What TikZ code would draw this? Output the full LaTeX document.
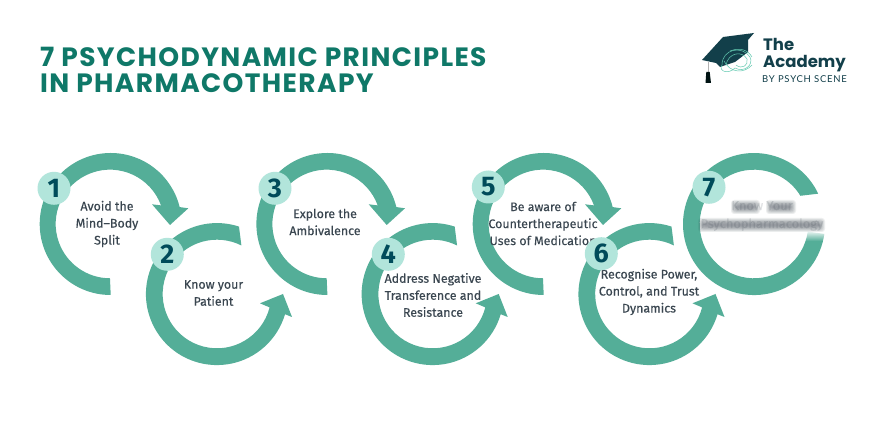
\documentclass[tikz,border=0pt]{standalone}
\usepackage{fontspec}
\setmainfont{Fira Sans}
\newfontfamily\bodym[FakeBold=0.5]{Fira Sans}
\newfontfamily\bodyr[FakeBold=0.15]{Fira Sans}
\newfontfamily\blurf[FakeBold=1.5]{Fira Sans}
\newfontfamily\digitf{Fira Sans}
\newfontfamily\titlef[LetterSpace=5.2]{Poppins}
\newfontfamily\logof{Poppins}
\newfontfamily\logos[LetterSpace=8]{Lato}
\usetikzlibrary{fadings,calc}
\definecolor{ringc}{HTML}{54AE98}
\definecolor{badgec}{HTML}{B2E5DB}
\definecolor{digitc}{HTML}{004B5A}
\definecolor{textc}{HTML}{3A4650}
\definecolor{titlec}{HTML}{0F7868}
\definecolor{logoc}{HTML}{123F4A}
\definecolor{brainc}{HTML}{62C9B0}
\tikzset{
  x=1pt,y=1pt,
  badge/.style={circle,fill=badgec,minimum size=33pt,inner sep=0pt,text=digitc,font=\digitf\fontsize{27}{27}\selectfont\bfseries},
  label/.style={align=center,text=textc,inner sep=0pt,font=\bodym\fontsize{12.4}{17}\selectfont},
  labellight/.style={align=center,text=textc,inner sep=0pt,font=\bodyr\fontsize{12.4}{17}\selectfont},
  ttl/.style={anchor=base west,inner sep=0pt,text=titlec,font=\titlef\bfseries\fontsize{26.5}{27}\selectfont},
  blurtxt/.style={align=center,text=textc,text opacity=0.12,inner sep=0pt,font=\blurf\fontsize{12.8}{18}\selectfont},
  brain/.style={draw=brainc,line width=0.5pt}
}
% top ring: flat end at the bottom, head to the lower right
\newcommand{\topring}[2]{%
  \fill[ringc] (#1+0.7,#2-71) arc[start angle=270,end angle=13.8,radius=71]
    -- (#1+78.3,#2+15.7) -- (#1+60,#2-1) -- (#1+42,#2+19.7)
    -- ++(9,-1.1) arc[start angle=20,end angle=270,radius=54.3] -- cycle;}
% bottom ring: slanted end at the top, head to the upper right
\newcommand{\lowring}[2]{%
  \fill[ringc] (#1+22,#2+67.4) arc[start angle=71.9,end angle=343.5,radius=71]
    -- (#1+75,#2-23) -- (#1+66,#2) -- (#1+43,#2-9.3)
    -- (#1+52.6,#2-13.4) arc[start angle=345.7,end angle=63.3,radius=54.3] -- cycle;}
% soft grey bar: left, right, centre height
\newcommand{\softbar}[3]{%
  \foreach \g in {0,1,...,7}{
    \fill[textc,opacity=0.085,rounded corners=3pt]
      (#1+\g*0.8-2,#3-7+\g*0.8) rectangle (#2-\g*0.8+2,#3+7-\g*0.8);
  }}
\begin{document}
\begin{tikzpicture}
\useasboundingbox (0,0) rectangle (878,433);
\fill[white] (0,0) rectangle (878,433);
% title
\node[ttl] (t1) at (40,366) {7 PSYCHODYNAMIC PRINCIPLES};
\node[ttl] (t2) at (40,340) {IN PHARMACOTHERAPY};
% logo
\fill[logoc] (702,373) -- (723,396) -- (754,400) -- (748,393) -- (748,381) -- (735,371) -- (720,366) -- (716,370) -- cycle;
\draw[gray!60,line width=0.7pt] (708,371) -- (708,361);
\fill[black!85!teal] (706.3,361) -- (709.7,361) -- (711,350) -- (705.5,350) -- cycle;
\draw[brain] (722,368) .. controls (722,384) and (742,388) .. (750,376) .. controls (754,368) and (744,360) .. (735,365) .. controls (728,358) and (718,362) .. (722,368);
\draw[brain] (726,368) .. controls (728,380) and (742,383) .. (747,374) .. controls (749,368) and (742,363) .. (736,368);
\draw[brain] (724,372) .. controls (730,360) and (744,359) .. (752,368);
\draw[brain] (730,382) .. controls (740,386) and (748,383) .. (752,376);
\node[anchor=base west,inner sep=0pt,text=logoc,font=\logof\bfseries\fontsize{16.5}{18}\selectfont] (l1) at (763,382.3) {The};
\node[anchor=base west,inner sep=0pt,text=logoc,font=\logof\bfseries\fontsize{16.5}{18}\selectfont] (l2) at (763,365.3) {Academy};
\node[anchor=base west,inner sep=0pt,text=logoc,font=\logos\fontsize{9.5}{10}\selectfont] (l3) at (762,350.7) {BY PSYCH SCENE};
% rings
\topring{110}{209}
\lowring{217}{139}
\topring{326.7}{209}
\lowring{432.7}{139}
\topring{543}{209}
\lowring{649.5}{139}
\fill[ringc] (754+64.2,209+30.3) arc[start angle=25.3,end angle=352,radius=71]
  -- ($(754,209)+(352:54.3)$) arc[start angle=352,end angle=31.3,radius=54.3] -- cycle;
% soft end of ring 7
\fill[white,path fading=south] (792,203) rectangle (830,192);
% labels
\node[label] (n1) at (107,209) {Avoid the\\Mind–Body\\Split};
\node[label] (n2) at (213.5,140) {Know your\\Patient};
\node[label] (n3) at (325,211) {Explore the\\Ambivalence};
\node[label] (n4) at (433,138) {Address Negative\\Transference and\\Resistance};
\node[labellight] (n5) at (543,209.5) {Be aware of\\Countertherapeutic\\Uses of Medication};
\node[label] (n6) at (649,141) {Recognise Power,\\Control, and Trust\\Dynamics};
% blurred label of ring 7
\softbar{733}{758}{226}
\softbar{768}{794}{226}
\softbar{700}{823}{208}
\node[blurtxt] (n7) at (762,217) {Know Your\\Psychopharmacology};
% badges
\node[badge] (b1) at (54,244.7) {1};
\node[badge] (b2) at (167.3,178.7) {2};
\node[badge] (b3) at (275,244.7) {3};
\node[badge] (b4) at (388.3,178.7) {4};
\node[badge] (b5) at (488.3,246) {5};
\node[badge] (b6) at (601.3,179.3) {6};
\node[badge] (b7) at (709,245.7) {7};
\end{tikzpicture}
\end{document}
